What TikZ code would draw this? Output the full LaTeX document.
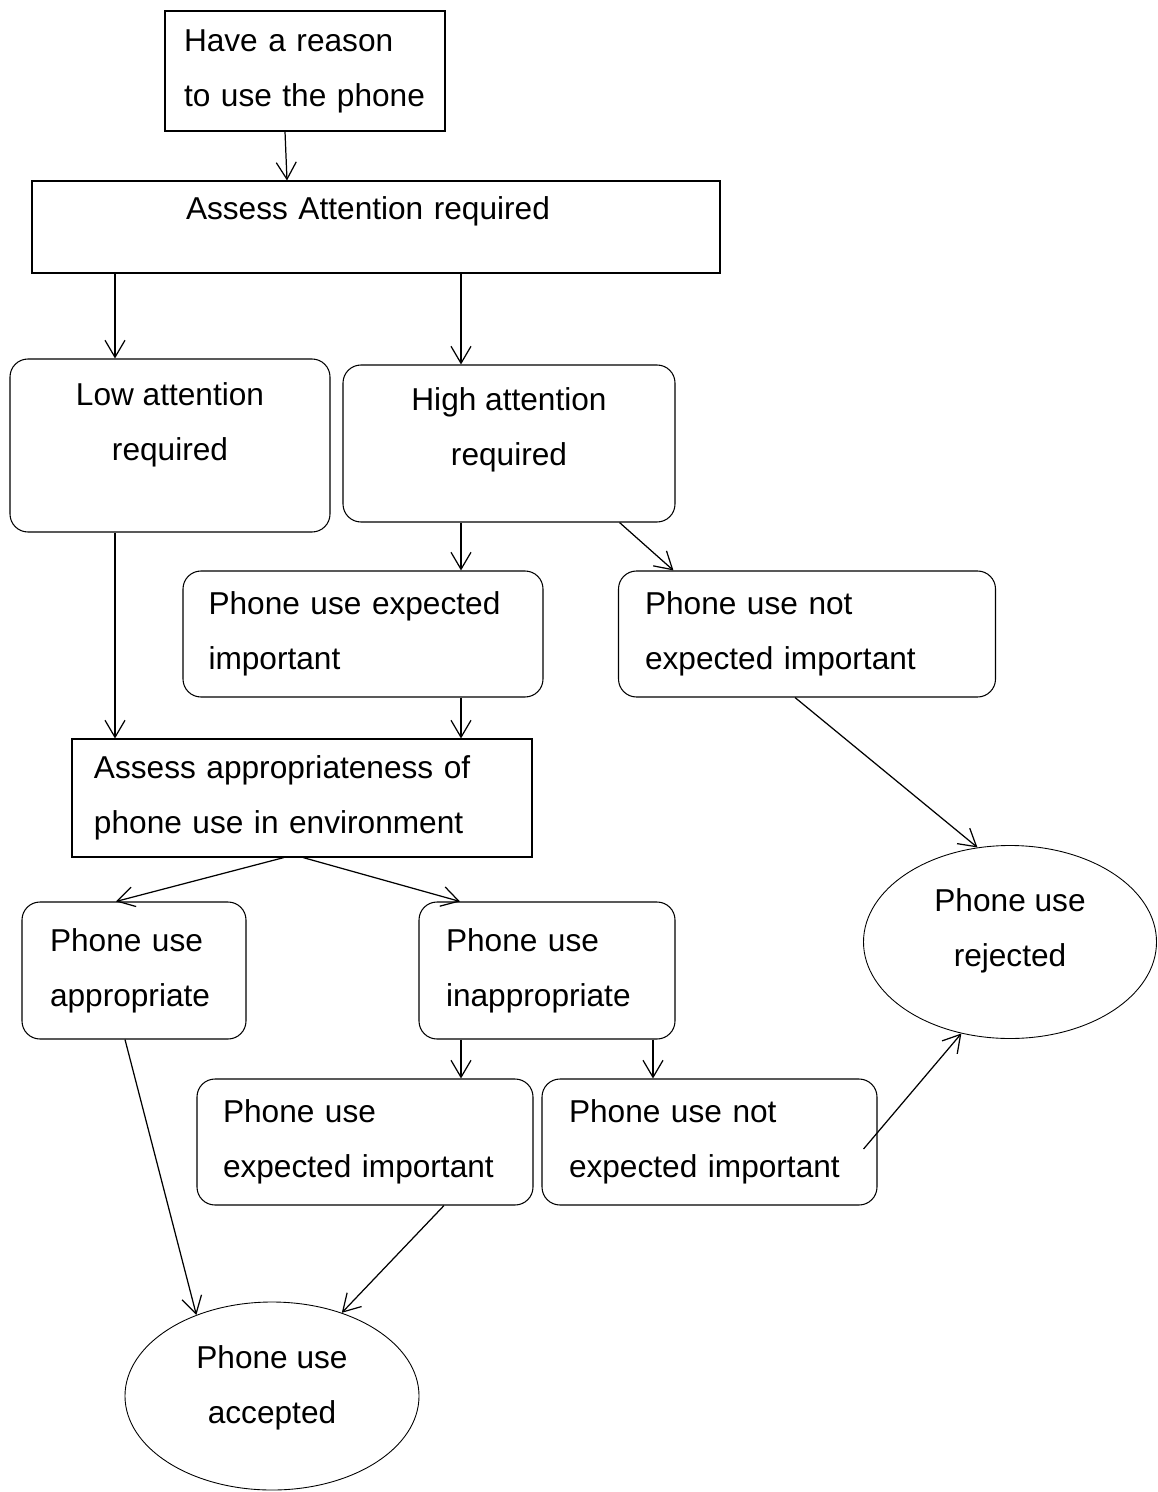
\documentclass[tikz,border=0pt]{standalone}
\usepackage{fontspec}
\setmainfont{Liberation Sans}
\usetikzlibrary{arrows.meta, shapes.geometric}

\begin{document}
\begin{tikzpicture}[x=0.2mm, y=-0.2mm,
  every node/.style={font=\fontsize{18pt}{31.3pt}\selectfont},
  sqbox/.style={draw, line width=0.6pt, align=left},
  rndbox/.style={draw, line width=0.6pt, rounded corners=3.6mm, align=left},
  oval/.style={draw, ellipse, line width=0.5pt, inner sep=0pt, align=center, text height=44.3pt},
  flow/.style={line width=0.7pt, -{Straight Barb[length=3.4mm, width=4mm]}}]
\useasboundingbox (0,0) rectangle (1157,1492);

% boxes
\node [sqbox, minimum width=56mm, minimum height=24mm, text width=48.4mm, inner xsep=3.8mm] (reason) at (305,71) {Have a reason\\to use the phone};
\node [sqbox, minimum width=137.6mm, minimum height=18.4mm, text width=76mm, inner xsep=30.8mm, text height=13pt, text depth=21.8pt] (assess) at (376,227) {Assess Attention required};
\node [rndbox, align=center, minimum width=64mm, minimum height=34.6mm, text height=44.3pt, text depth=26.8pt] (low) at (170,445.5) {Low attention\\required};
\node [rndbox, align=center, minimum width=66.4mm, minimum height=31.4mm, text height=44.3pt, text depth=18.9pt] (high) at (509,443.5) {High attention\\required};
\node [rndbox, minimum width=72mm, minimum height=25.2mm, text width=61.8mm, inner xsep=5.1mm] (imp) at (363,634) {Phone use expected\\important};
\node [rndbox, minimum width=75.4mm, minimum height=25.2mm, text width=64.8mm, inner xsep=5.3mm] (notimp) at (807,634) {Phone use not\\expected important};
\node [sqbox, minimum width=92mm, minimum height=23.6mm, text width=83.2mm, inner xsep=4.4mm] (env) at (302,798) {Assess appropriateness of\\phone use in environment};
\node [rndbox, minimum width=44.8mm, minimum height=27.4mm, text width=33.6mm, inner xsep=5.6mm] (okenv) at (134,970.5) {Phone use\\appropriate};
\node [rndbox, minimum width=51.2mm, minimum height=27.4mm, text width=40.4mm, inner xsep=5.4mm] (badenv) at (547,970.5) {Phone use\\inappropriate};
\node [rndbox, minimum width=67.2mm, minimum height=25.2mm, text width=56.8mm, inner xsep=5.2mm] (imp2) at (365,1142) {Phone use\\expected important};
\node [rndbox, minimum width=67mm, minimum height=25.2mm, text width=56.2mm, inner xsep=5.4mm] (notimp2) at (709.5,1142) {Phone use not\\expected important};

% outcomes
\node [oval, minimum width=58.6mm, minimum height=38.6mm, text depth=16.1pt] (rejected) at (1010,942) {Phone use\\rejected};
\node [oval, minimum width=58.8mm, minimum height=37.6mm, text depth=13.2pt] (accepted) at (272,1396) {Phone use\\accepted};

% arrows
\draw [flow] ([xshift=-4mm]reason.south) -- ([xshift=-17.8mm]assess.north);
\draw [flow] ([xshift=-11mm]low.north |- assess.south) -- ([xshift=-11mm]low.north);
\draw [flow] ([xshift=-9.6mm]high.north |- assess.south) -- ([xshift=-9.6mm]high.north);
\draw [flow] ([xshift=19.6mm]imp.north |- high.south) -- ([xshift=19.6mm]imp.north);
\draw [flow] ([xshift=-11.2mm]high.south east) -- ([xshift=11.1mm]notimp.north west);
\draw [flow] ([xshift=-11mm]low.south) -- ([xshift=-11mm]low.south |- env.north);
\draw [flow] ([xshift=19.6mm]imp.south) -- ([xshift=19.6mm]imp.south |- env.north);
\draw [flow] ([xshift=-2.4mm]notimp.south) -- (rejected.109);
\draw [flow] ([xshift=-3.6mm]env.south) -- ([xshift=-3.6mm]okenv.north);
\draw [flow] ([xshift=0.2mm]env.south) -- ([xshift=-17.4mm]badenv.north);
\draw [flow] ([xshift=19.2mm]imp2.north |- badenv.south) -- ([xshift=19.2mm]imp2.north);
\draw [flow] ([xshift=-11.3mm]notimp2.north |- badenv.south) -- ([xshift=-11.3mm]notimp2.north);
\draw [flow] ([shift={(-2.8mm,-1.4mm)}]notimp2.east) -- (rejected.242);
\draw [flow] ([xshift=-1.8mm]okenv.south) -- (accepted.133);
\draw [flow] ([xshift=15.8mm]imp2.south) -- (accepted.50);
\end{tikzpicture}
\end{document}
